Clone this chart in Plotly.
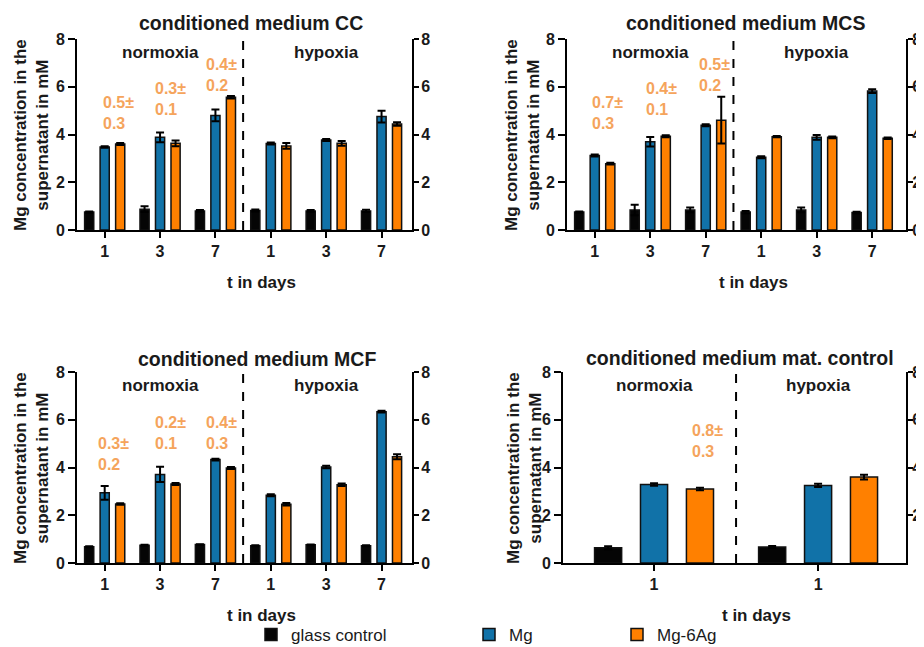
import plotly.graph_objects as go

FONT = "Liberation Sans"
TXT = "#1a1a1a"
COLORS = ["#050505", "#1172a8", "#ff8000"]
NOTE_C = "#f5a45c"

series_names = ["glass control", "Mg", "Mg-6Ag"]
panel_titles = ["conditioned medium CC", "conditioned medium MCS",
                "conditioned medium MCF", "conditioned medium mat. control"]
days6 = ["1", "3", "7", "1", "3", "7"]
days2 = ["1", "1"]
conditions = ["normoxia", "hypoxia"]

# ---- conditioned medium CC
cc_glass = [0.75, 0.87, 0.80, 0.82, 0.80, 0.80]
cc_glass_err = [0.03, 0.12, 0.04, 0.04, 0.04, 0.05]
cc_mg = [3.48, 3.88, 4.80, 3.62, 3.77, 4.75]
cc_mg_err = [0.03, 0.20, 0.25, 0.04, 0.04, 0.25]
cc_ag = [3.60, 3.63, 5.56, 3.52, 3.63, 4.44]
cc_ag_err = [0.04, 0.12, 0.05, 0.12, 0.10, 0.07]
cc_notes = ["0.5±<br>0.3", "0.3±<br>0.1", "0.4±<br>0.2"]

# ---- conditioned medium MCS
mcs_glass = [0.75, 0.84, 0.84, 0.75, 0.84, 0.73]
mcs_glass_err = [0.03, 0.22, 0.10, 0.05, 0.10, 0.03]
mcs_mg = [3.12, 3.70, 4.39, 3.05, 3.88, 5.82]
mcs_mg_err = [0.04, 0.20, 0.04, 0.04, 0.10, 0.08]
mcs_ag = [2.78, 3.93, 4.60, 3.91, 3.88, 3.84]
mcs_ag_err = [0.04, 0.04, 0.98, 0.03, 0.04, 0.03]
mcs_notes = ["0.7±<br>0.3", "0.4±<br>0.1", "0.5±<br>0.2"]

# ---- conditioned medium MCF
mcf_glass = [0.68, 0.74, 0.77, 0.72, 0.76, 0.72]
mcf_glass_err = [0.02, 0.02, 0.02, 0.02, 0.02, 0.02]
mcf_mg = [2.94, 3.71, 4.33, 2.84, 4.02, 6.34]
mcf_mg_err = [0.29, 0.32, 0.04, 0.04, 0.05, 0.04]
mcf_ag = [2.47, 3.31, 3.98, 2.46, 3.28, 4.45]
mcf_ag_err = [0.03, 0.04, 0.04, 0.05, 0.05, 0.10]
mcf_notes = ["0.3±<br>0.2", "0.2±<br>0.1", "0.4±<br>0.3"]

# ---- conditioned medium mat. control
mat_glass = [0.64, 0.67]
mat_glass_err = [0.06, 0.04]
mat_mg = [3.29, 3.25]
mat_mg_err = [0.05, 0.07]
mat_ag = [3.10, 3.60]
mat_ag_err = [0.05, 0.10]
mat_notes = ["0.8±<br>0.3"]

# the page body has an 8px margin, so the figure starts at (8, 8) in the window
OFF = 8
W, H = 924 - OFF, 647 - OFF


def px(x):
    return (x - OFF) / W


def py(y):
    return 1 - (y - OFF) / H


panels = [
    dict(vals=[cc_glass, cc_mg, cc_ag], errs=[cc_glass_err, cc_mg_err, cc_ag_err],
         ticks=days6, notes=cc_notes, note_x=[-0.06, 0.87, 1.80], note_y=[4.90, 5.47, 6.48],
         xdom=[px(77), px(412)], ydom=[py(230), py(39)], xr=[-0.5, 5.55], div=2.5,
         cond_x=[1, 4], title_xy=(251, 23), xt_xy=(262, 282), yt_xy=(32, 135),
         rt=[0, 2, 4, 6, 8], rstand=-1),
    dict(vals=[mcs_glass, mcs_mg, mcs_ag], errs=[mcs_glass_err, mcs_mg_err, mcs_ag_err],
         ticks=days6, notes=mcs_notes, note_x=[-0.09, 0.89, 1.84], note_y=[4.88, 5.47, 6.48],
         xdom=[px(567), px(906)], ydom=[py(230), py(39)], xr=[-0.5, 5.61], div=2.5,
         cond_x=[1, 4], title_xy=(745, 23), xt_xy=(753, 282), yt_xy=(523, 135),
         rt=[0, 2, 4, 6, 8], rstand=-4),
    dict(vals=[mcf_glass, mcf_mg, mcf_ag], errs=[mcf_glass_err, mcf_mg_err, mcf_ag_err],
         ticks=days6, notes=mcf_notes, note_x=[-0.15, 0.87, 1.80], note_y=[4.57, 5.44, 5.44],
         xdom=[px(77), px(412)], ydom=[py(563), py(372)], xr=[-0.5, 5.55], div=2.5,
         cond_x=[1, 4], title_xy=(257, 359), xt_xy=(262, 615), yt_xy=(32, 468),
         rt=[0, 2, 4, 6, 8], rstand=-1),
    dict(vals=[mat_glass, mat_mg, mat_ag], errs=[mat_glass_err, mat_mg_err, mat_ag_err],
         ticks=days2, notes=mat_notes, note_x=[0.22], note_y=[5.11],
         xdom=[px(563), px(906)], ydom=[py(563), py(372)], xr=[-0.555, 1.536], div=0.5,
         cond_x=[0, 1], title_xy=(740, 358), xt_xy=(756, 615), yt_xy=(525, 468),
         rt=[2, 4, 6, 8], rstand=-4),
]

fig = go.Figure()
annotations = []
shapes = []
legend_ids = ["legend", "legend2", "legend3"]

axis_common = dict(showline=True, linecolor="black", linewidth=2, ticks="outside",
                   tickwidth=2, tickcolor="black", showgrid=False, zeroline=False,
                   fixedrange=True, ticklabeloverflow="allow",
                   tickfont=dict(family=FONT, size=16, color=TXT, weight="bold"))

for i, p in enumerate(panels):
    n = i + 1
    xa = "x" if n == 1 else f"x{n}"
    ya = "y" if n == 1 else f"y{n}"
    yr = f"y{n + 4}"
    xs = list(range(len(p["ticks"])))
    for s in range(3):
        fig.add_trace(go.Bar(
            x=xs, y=p["vals"][s], name=series_names[s],
            marker=dict(color=COLORS[s], line=dict(color="#111111", width=1.5)),
            error_y=dict(type="data", array=p["errs"][s], visible=True,
                         color="black", thickness=2, width=4),
            xaxis=xa, yaxis=ya, showlegend=(i == 0), legend=legend_ids[s],
            offsetgroup=str(s), hoverinfo="skip"))
    # right-hand axis carrier
    fig.add_trace(go.Scatter(x=[None], y=[None], xaxis=xa, yaxis=yr,
                             showlegend=False, hoverinfo="skip"))

    fig.layout[f"xaxis{n if n > 1 else ''}"] = dict(
        axis_common, domain=p["xdom"], anchor=ya, range=p["xr"],
        tickvals=xs, ticktext=p["ticks"], ticklen=6)
    fig.layout[f"yaxis{n if n > 1 else ''}"] = dict(
        axis_common, domain=p["ydom"], anchor=xa, range=[0, 8],
        tickvals=[0, 2, 4, 6, 8], ticklen=7)
    fig.layout[f"yaxis{n + 4}"] = dict(
        axis_common, overlaying=ya, side="right", anchor=xa, range=[0, 8],
        tickvals=p["rt"], ticklen=5, ticklabelstandoff=p["rstand"])

    # normoxia / hypoxia divider
    shapes.append(dict(type="line", xref=xa, yref=ya, x0=p["div"], x1=p["div"],
                       y0=0, y1=8, line=dict(color="black", width=2, dash="dash")))
    for c, cx in zip(conditions, p["cond_x"]):
        annotations.append(dict(xref=xa, yref=ya, x=cx, y=7.45, text=c, showarrow=False,
                                xanchor="center", yanchor="middle",
                                font=dict(family=FONT, size=17, color=TXT, weight="bold")))
    for t, nx, ny in zip(p["notes"], p["note_x"], p["note_y"]):
        annotations.append(dict(xref=xa, yref=ya, x=nx, y=ny, text=t, showarrow=False,
                                xanchor="left", yanchor="middle", align="left",
                                font=dict(family=FONT, size=16, color=NOTE_C, weight="bold")))
    tx, ty = p["title_xy"]
    annotations.append(dict(xref="paper", yref="paper", x=px(tx), y=py(ty),
                            text=panel_titles[i], showarrow=False,
                            xanchor="center", yanchor="middle",
                            font=dict(family=FONT, size=19.5, color=TXT, weight="bold")))
    xx, xy = p["xt_xy"]
    annotations.append(dict(xref="paper", yref="paper", x=px(xx), y=py(xy),
                            text="t in days", showarrow=False,
                            xanchor="center", yanchor="middle",
                            font=dict(family=FONT, size=17, color=TXT, weight="bold")))
    yx, yy = p["yt_xy"]
    annotations.append(dict(xref="paper", yref="paper", x=px(yx), y=py(yy),
                            text="Mg concentration in the<br>supernatant in mM",
                            showarrow=False, textangle=-90,
                            xanchor="center", yanchor="middle",
                            font=dict(family=FONT, size=17, color=TXT, weight="bold")))

legend_font = dict(family=FONT, size=17, color=TXT)
leg_x = [px(251), px(469), px(617)]
leg_common = dict(y=py(635), xanchor="left", yanchor="middle",
                  orientation="h", font=legend_font, bgcolor="rgba(0,0,0,0)")
fig.update_layout(
    width=W, height=H,
    margin=dict(l=0, r=0, t=0, b=0, autoexpand=False),
    paper_bgcolor="white", plot_bgcolor="white",
    barmode="group", bargap=0.16, bargroupgap=0.41,
    annotations=annotations, shapes=shapes,
    legend=dict(leg_common, x=leg_x[0]),
    legend2=dict(leg_common, x=leg_x[1]),
    legend3=dict(leg_common, x=leg_x[2]),
    font=dict(family=FONT, color=TXT),
)

fig.write_html("out.html")
